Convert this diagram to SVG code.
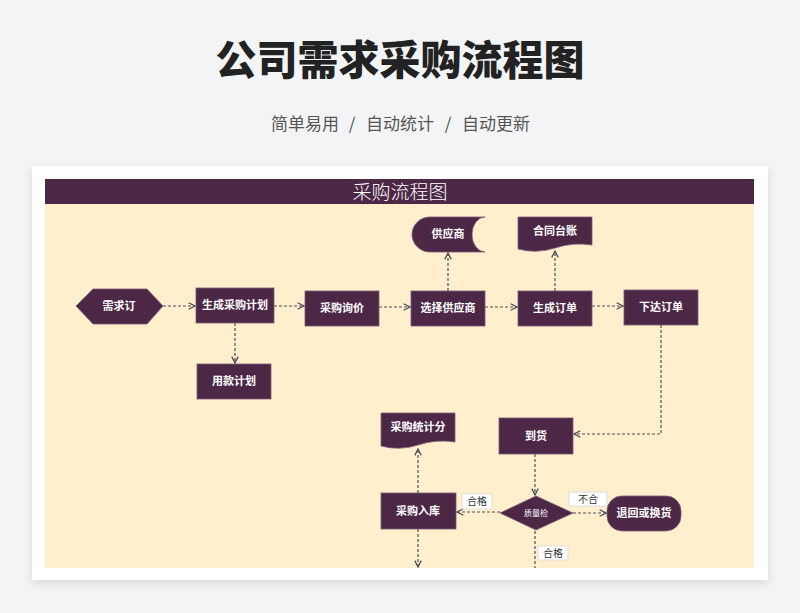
<svg xmlns="http://www.w3.org/2000/svg" width="800" height="613" viewBox="0 0 800 613">
<defs>
<style>
.node{fill:#4C2746;stroke:#7B5A74;stroke-width:0.8}
.nt{fill:#fff;font-family:"Noto Sans CJK SC","Noto Sans",sans-serif;font-weight:700;font-size:11px;text-anchor:middle}
.edge{fill:none;stroke:#4A4E5A;stroke-width:1.2;stroke-dasharray:3 2}
.lb{fill:#fff;stroke:#D8D8D8;stroke-width:0.8}
.lt{fill:#333;font-family:"Noto Sans CJK SC","Noto Sans",sans-serif;font-size:10px;text-anchor:middle}
.sub{font-family:"Noto Sans CJK SC",sans-serif;font-size:17px;fill:#555;text-anchor:middle}
</style>
<marker id="arr" viewBox="0 0 10 10" refX="9" refY="5" markerWidth="8" markerHeight="8" markerUnits="userSpaceOnUse" orient="auto">
<path d="M1,1 L9,5 L1,9" fill="none" stroke="#4A4E5A" stroke-width="1.6"/>
</marker>
<filter id="sh" x="-5%" y="-5%" width="110%" height="115%">
<feDropShadow dx="0" dy="3" stdDeviation="4" flood-color="#000" flood-opacity="0.12"/>
</filter>
<clipPath id="clip"><rect x="45" y="204" width="709" height="364"/></clipPath>
</defs>
<rect width="800" height="613" fill="#F3F4F6"/>
<text x="400" y="75" font-family="'Noto Sans CJK SC',sans-serif" font-weight="900" font-size="41" fill="#222" text-anchor="middle">公司需求采购流程图</text>
<text class="sub" x="305" y="130">简单易用</text>
<text class="sub" x="352" y="130">/</text>
<text class="sub" x="400" y="130">自动统计</text>
<text class="sub" x="448" y="130">/</text>
<text class="sub" x="496" y="130">自动更新</text>
<rect x="32" y="166" width="736" height="414" fill="#fff" filter="url(#sh)"/>
<rect x="45" y="179" width="709" height="25" fill="#4C2746"/>
<text x="400" y="199" font-family="'Noto Sans CJK SC',sans-serif" font-weight="300" font-size="19" fill="#fff" text-anchor="middle">采购流程图</text>
<rect x="45" y="204" width="709" height="364" fill="#FFEFCC"/>

<g id="connectors" clip-path="url(#clip)">
<path class="edge" d="M163,306 H195" marker-end="url(#arr)"/>
<path class="edge" d="M274,306 H304" marker-end="url(#arr)"/>
<path class="edge" d="M379,307 H410" marker-end="url(#arr)"/>
<path class="edge" d="M485,307 H517" marker-end="url(#arr)"/>
<path class="edge" d="M592,306 H623" marker-end="url(#arr)"/>
<path class="edge" d="M235,323 V363" marker-end="url(#arr)"/>
<path class="edge" d="M448,291 V253" marker-end="url(#arr)"/>
<path class="edge" d="M555,291 V251" marker-end="url(#arr)"/>
<path class="edge" d="M661,325 V434 H574" marker-end="url(#arr)"/>
<path class="edge" d="M535,454 V495" marker-end="url(#arr)"/>
<path class="edge" d="M500,512 H457" marker-end="url(#arr)"/>
<path class="edge" d="M573,513 H606" marker-end="url(#arr)"/>
<path class="edge" d="M535,531 V590"/>
<path class="edge" d="M418,493 V449" marker-end="url(#arr)"/>
<path class="edge" d="M418,529 V567" marker-end="url(#arr)"/>
<rect class="lb" x="462" y="494" width="30" height="15"/>
<text class="lt" x="477" y="505">合格</text>
<rect class="lb" x="569" y="492" width="38" height="14"/>
<text class="lt" x="588" y="503">不合</text>
<rect class="lb" x="538" y="546" width="30" height="14"/>
<text class="lt" x="553" y="557">合格</text>
</g>

<g id="n-xuqiu"><polygon class="node" points="76,306 93,289 147,289 163,306 147,324 93,324"/><text class="nt" x="119" y="310">需求订</text></g>
<g id="n-jihua"><rect class="node" x="196" y="288" width="78" height="35"/><text class="nt" x="235" y="309">生成采购计划</text></g>
<g id="n-xunjia"><rect class="node" x="305" y="291" width="74" height="35"/><text class="nt" x="342" y="312">采购询价</text></g>
<g id="n-yongkuan"><rect class="node" x="197" y="364" width="74" height="35"/><text class="nt" x="234" y="385">用款计划</text></g>
<g id="n-xuanze"><rect class="node" x="411" y="291" width="74" height="35"/><text class="nt" x="448" y="312">选择供应商</text></g>
<g id="n-dingdan"><rect class="node" x="518" y="291" width="74" height="35"/><text class="nt" x="555" y="312">生成订单</text></g>
<g id="n-xiada"><rect class="node" x="624" y="290" width="74" height="35"/><text class="nt" x="661" y="311">下达订单</text></g>
<g id="n-gongying"><path class="node" d="M430,217 H485 A13,17.5 0 0 0 485,252 H430 A18,17.5 0 0 1 430,217 Z"/><text class="nt" x="448" y="238">供应商</text></g>
<g id="n-hetong"><path class="node" d="M518,217 H592 V245 Q573,242 555,248 Q537,254 518,249 Z"/><text class="nt" x="555" y="235">合同台账</text></g>
<g id="n-tongji"><path class="node" d="M381,413 H455 V442 Q436,439 418,445 Q400,451 381,446 Z"/><text class="nt" x="418" y="431">采购统计分</text></g>
<g id="n-daohuo"><rect class="node" x="499" y="418" width="74" height="36"/><text class="nt" x="536" y="440">到货</text></g>
<g id="n-zhijian"><polygon class="node" points="500,513 536,496 573,513 536,530"/><text class="nt" x="536" y="516" style="font-size:8px;font-weight:400">质量检</text></g>
<g id="n-ruku"><rect class="node" x="381" y="493" width="75" height="36"/><text class="nt" x="418" y="515">采购入库</text></g>
<g id="n-tuihui"><rect class="node" x="607" y="496" width="74" height="35" rx="15"/><text class="nt" x="644" y="517">退回或换货</text></g>
</svg>
